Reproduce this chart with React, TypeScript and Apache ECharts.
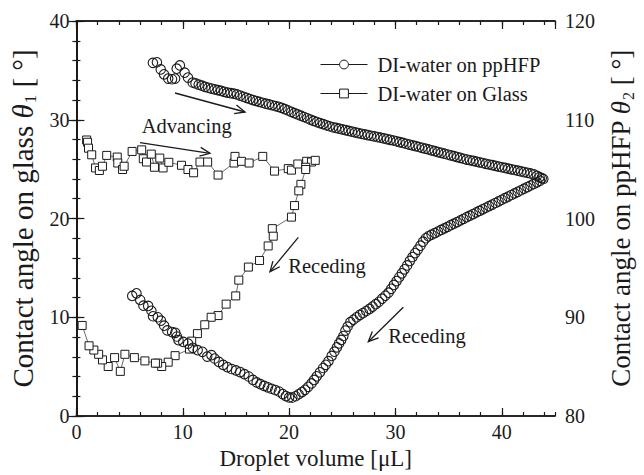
import React, { useEffect, useRef } from "react";
import * as echarts from "echarts";

const FONT = '"Liberation Serif", "Times New Roman", Times, serif';
const INK = "#1a1a1a";

// Droplet volume [µL] vs contact angle on ppHFP θ2 [°] (right axis)
const ppHfpAdvancing: number[][] = [
  [7.19, 115.76], [7.57, 115.82], [7.93, 115.1], [8.24, 114.6], [8.63, 114.17], [8.99, 114.1],
  [9.28, 114.17], [9.43, 115.17], [9.73, 115.5], [10.18, 114.77], [10.49, 114.27], [10.93, 113.77],
  [11.2, 113.68], [11.5, 113.56], [11.8, 113.45], [12.1, 113.33], [12.4, 113.24], [12.7, 113.16],
  [13.0, 113.08], [13.3, 113.0], [13.6, 112.92], [13.9, 112.83], [14.2, 112.75], [14.5, 112.69],
  [14.8, 112.64], [15.1, 112.56], [15.4, 112.45], [15.7, 112.33], [16.0, 112.22], [16.3, 112.1],
  [16.6, 111.99], [16.9, 111.9], [17.2, 111.8], [17.5, 111.72], [17.8, 111.63], [18.1, 111.55],
  [18.4, 111.47], [18.7, 111.39], [19.0, 111.31], [19.3, 111.21], [19.6, 111.07], [19.9, 110.94],
  [20.2, 110.8], [20.5, 110.67], [20.8, 110.54], [21.1, 110.41], [21.4, 110.28], [21.7, 110.15],
  [22.0, 110.02], [22.3, 109.88], [22.6, 109.77], [22.9, 109.66], [23.2, 109.55], [23.5, 109.44],
  [23.8, 109.34], [24.1, 109.24], [24.4, 109.17], [24.7, 109.1], [25.0, 109.02], [25.3, 108.95],
  [25.6, 108.87], [25.9, 108.8], [26.2, 108.72], [26.5, 108.65], [26.8, 108.58], [27.1, 108.51],
  [27.4, 108.45], [27.7, 108.38], [28.0, 108.31], [28.3, 108.25], [28.6, 108.18], [28.9, 108.11],
  [29.2, 108.04], [29.5, 107.97], [29.8, 107.9], [30.1, 107.82], [30.4, 107.73], [30.7, 107.65],
  [31.0, 107.57], [31.3, 107.49], [31.6, 107.4], [31.9, 107.32], [32.2, 107.24], [32.5, 107.16],
  [32.8, 107.07], [33.1, 106.99], [33.4, 106.9], [33.7, 106.82], [34.0, 106.73], [34.3, 106.65],
  [34.6, 106.56], [34.9, 106.48], [35.2, 106.39], [35.5, 106.31], [35.8, 106.22], [36.1, 106.14],
  [36.4, 106.05], [36.7, 105.97], [37.0, 105.9], [37.3, 105.83], [37.6, 105.76], [37.9, 105.69],
  [38.2, 105.62], [38.5, 105.54], [38.8, 105.47], [39.1, 105.4], [39.4, 105.33], [39.7, 105.26],
  [40.0, 105.19], [40.3, 105.12], [40.6, 105.05], [40.9, 104.98], [41.2, 104.91], [41.5, 104.84],
  [41.8, 104.77], [42.1, 104.7], [42.4, 104.63], [42.7, 104.56], [43.0, 104.46], [43.3, 104.32],
  [43.55, 104.18], [43.75, 104.08], [43.9, 104.0],
];

const ppHfpReceding: number[][] = [
  [43.6, 103.82], [43.3, 103.66], [43.0, 103.5], [42.7, 103.34], [42.4, 103.18], [42.1, 103.02],
  [41.8, 102.86], [41.5, 102.7], [41.2, 102.54], [40.9, 102.38], [40.6, 102.22], [40.3, 102.06],
  [40.0, 101.9], [39.7, 101.73], [39.4, 101.57], [39.1, 101.41], [38.8, 101.25], [38.5, 101.09],
  [38.2, 100.93], [37.9, 100.77], [37.6, 100.61], [37.3, 100.45], [37.0, 100.29], [36.7, 100.13],
  [36.4, 99.97], [36.1, 99.8], [35.8, 99.64], [35.5, 99.48], [35.2, 99.32], [34.9, 99.16],
  [34.6, 99.0], [34.3, 98.84], [34.0, 98.68], [33.7, 98.52], [33.4, 98.36], [33.1, 98.2],
  [32.85, 98.0], [32.6, 97.65], [32.35, 97.25], [32.1, 96.85], [31.85, 96.5], [31.6, 96.1],
  [31.35, 95.7], [31.1, 95.25], [30.85, 94.85], [30.6, 94.45], [30.35, 94.05], [30.1, 93.66],
  [29.85, 93.27], [29.6, 92.88], [29.35, 92.49], [29.05, 92.18], [28.75, 91.88], [28.45, 91.57],
  [28.15, 91.32], [27.85, 91.08], [27.56, 90.84], [27.25, 90.63], [26.95, 90.43], [26.66, 90.24],
  [26.35, 90.0], [26.05, 89.75], [25.76, 89.5], [25.5, 89.05], [25.3, 88.65], [25.1, 88.1],
  [24.9, 87.7], [24.7, 87.35], [24.5, 86.95], [24.26, 86.51], [24.0, 86.08], [23.7, 85.55],
  [23.45, 85.18], [23.2, 84.86], [22.9, 84.42], [22.6, 84.02], [22.35, 83.65], [22.1, 83.3],
  [21.8, 82.95], [21.5, 82.65], [21.2, 82.42], [20.9, 82.2], [20.6, 82.0], [20.3, 81.87],
  [20.0, 81.88], [19.7, 82.02], [19.4, 82.22], [19.05, 82.48], [18.7, 82.63], [18.35, 82.76],
  [18.0, 82.9], [17.65, 83.05], [17.3, 83.22], [16.95, 83.4], [16.6, 83.65], [16.2, 84.0],
  [15.8, 84.24], [15.4, 84.45], [15.0, 84.62], [14.6, 84.76], [14.2, 84.95], [13.8, 85.17],
  [13.4, 85.48], [13.0, 85.82], [12.7, 86.16], [12.3, 86.02], [11.85, 86.5], [11.4, 86.67],
  [10.95, 86.9], [10.5, 87.33], [10.05, 87.5], [9.6, 87.68], [9.45, 88.05], [9.3, 88.42],
  [9.0, 88.5], [8.55, 88.67], [8.25, 89.15], [7.95, 89.65], [7.65, 90.0], [7.2, 90.1],
  [7.05, 90.65], [6.75, 91.15], [6.3, 91.17], [6.0, 91.75], [5.65, 92.42], [5.25, 92.16],
];

// Droplet volume [µL] vs contact angle on glass θ1 [°] (left axis)
const glassAdvancing: number[][] = [
  [0.96, 27.95], [1.05, 27.72], [1.14, 27.12], [1.44, 26.45], [1.8, 25.12], [2.16, 24.86],
  [2.45, 25.29], [2.85, 26.39], [3.84, 26.22], [3.89, 25.62], [4.34, 24.96], [4.49, 25.29],
  [5.24, 26.79], [6.14, 26.95], [6.29, 26.05], [6.59, 25.72], [7.04, 26.52], [7.34, 25.19],
  [7.84, 26.12], [8.15, 25.12], [8.69, 25.69], [9.88, 25.39], [10.49, 24.96], [11.02, 24.63],
  [11.62, 25.72], [12.34, 25.72], [13.32, 24.4], [14.82, 25.62], [14.91, 26.29], [15.52, 25.79],
  [16.24, 25.62], [17.52, 26.29], [18.63, 24.8], [19.92, 25.05], [20.22, 24.9], [20.82, 25.52],
  [21.65, 25.79], [22.1, 25.72], [22.46, 25.89],
];

const glassReceding: number[][] = [
  [21.56, 25.19], [21.56, 24.96], [21.11, 23.46], [20.91, 22.8], [20.51, 21.31], [20.22, 20.14],
  [18.42, 18.97], [18.51, 18.21], [18.03, 17.22], [17.22, 15.75], [16.17, 15.08], [15.27, 13.76],
  [14.98, 12.16], [14.08, 11.33], [13.32, 10.17], [12.67, 10.0], [12.07, 9.24], [11.38, 8.34],
  [10.84, 7.58], [10.63, 6.78], [9.28, 6.11], [8.63, 5.45], [8.02, 5.01], [7.64, 5.35],
  [7.43, 5.35], [6.44, 5.58], [5.45, 5.91], [4.56, 6.25], [4.13, 4.52], [3.59, 5.91],
  [2.99, 5.01], [2.45, 5.68], [2.09, 6.25], [1.64, 6.68], [1.19, 7.11], [0.54, 9.17],
];

const seriesNames = ["DI-water on ppHFP", "DI-water on Glass"];
const xName = "Droplet volume [μL]";
const yLeftName = "Contact angle on glass {th|θ}{sub|1} [ °]";
const yRightName = "Contact angle on ppHFP {th|θ}{sub|2} [ °]";

function arrow(x1: number, y1: number, x2: number, y2: number) {
  const a = Math.atan2(y2 - y1, x2 - x1);
  const L = 11;
  const s = 0.42;
  const style = { stroke: INK, lineWidth: 1.3, fill: null };
  return [
    { type: "line", shape: { x1, y1, x2, y2 }, style, silent: true },
    {
      type: "polyline",
      shape: {
        points: [
          [x2 - L * Math.cos(a - s), y2 - L * Math.sin(a - s)],
          [x2, y2],
          [x2 - L * Math.cos(a + s), y2 - L * Math.sin(a + s)],
        ],
      },
      style,
      silent: true,
    },
  ];
}

function note(text: string, x: number, y: number) {
  return {
    type: "text",
    x,
    y,
    silent: true,
    style: { text, fontFamily: FONT, fontSize: 20.5, fill: INK, align: "left", verticalAlign: "middle" },
  };
}

function titleStyle(size: number, subSize: number, subDrop: number) {
  return {
    fontFamily: FONT,
    fontSize: size,
    color: INK,
    rich: {
      th: { fontFamily: FONT, fontSize: size, fontStyle: "italic", color: INK },
      sub: { fontFamily: FONT, fontSize: subSize, color: INK, padding: [subDrop, 0, 0, 1] },
    },
  };
}

export default function App() {
  const ref = useRef<HTMLDivElement>(null);
  useEffect(() => {
    if (!ref.current) return;
    const chart = echarts.init(ref.current, undefined, { renderer: "svg" });
    const axisLine = { show: true, lineStyle: { color: INK, width: 1.5 } };
    const majorTick = { show: true, inside: true, length: 8, lineStyle: { color: INK, width: 1.2 } };
    const minorTick = { show: true, inside: true, length: 4, lineStyle: { color: INK, width: 1.2 } };
    const label = { fontFamily: FONT, fontSize: 20, color: INK };
    const xBase = { type: "value", min: 0, max: 45, splitLine: { show: false }, axisLine };
    const yL = { type: "value", min: 0, max: 40, splitLine: { show: false }, axisLine };
    const yR = { type: "value", min: 80, max: 120, splitLine: { show: false }, axisLine };

    chart.setOption({
      animation: false,
      backgroundColor: "#fff",
      grid: { left: 70, right: 73, top: 21, bottom: 53 },
      xAxis: [
        {
          ...xBase,
          position: "bottom",
          interval: 10,
          axisTick: majorTick,
          axisLabel: { ...label, margin: 6, showMaxLabel: false },
          name: xName,
          nameLocation: "middle",
          nameGap: 31,
          nameTextStyle: { fontFamily: FONT, fontSize: 23, color: INK },
        },
        { ...xBase, position: "bottom", interval: 2, axisTick: minorTick, axisLabel: { show: false } },
        { ...xBase, position: "top", interval: 10, axisTick: majorTick, axisLabel: { show: false } },
        { ...xBase, position: "top", interval: 2, axisTick: minorTick, axisLabel: { show: false } },
      ],
      yAxis: [
        {
          ...yL,
          position: "left",
          interval: 10,
          axisTick: majorTick,
          axisLabel: { ...label, margin: 7 },
          name: yLeftName,
          nameLocation: "middle",
          nameRotate: 90,
          nameGap: 25,
          nameTextStyle: titleStyle(29, 17, 15),
        },
        { ...yL, position: "left", interval: 2, axisTick: minorTick, axisLabel: { show: false } },
        {
          ...yR,
          position: "right",
          interval: 10,
          axisTick: majorTick,
          axisLabel: { ...label, margin: 10 },
          name: yRightName,
          nameLocation: "middle",
          nameRotate: 90,
          nameGap: 50,
          nameTextStyle: titleStyle(27, 16, 15),
        },
        { ...yR, position: "right", interval: 2, axisTick: minorTick, axisLabel: { show: false } },
      ],
      legend: {
        orient: "vertical",
        left: 315,
        top: 49,
        itemWidth: 47,
        itemHeight: 11,
        itemGap: 8,
        selectedMode: false,
        textStyle: { fontFamily: FONT, fontSize: 20.5, color: INK, padding: [0, 0, 0, 5] },
        data: [
          {
            name: seriesNames[0],
            itemStyle: { color: "#fff", borderColor: INK, borderWidth: 1 },
            lineStyle: { color: INK, width: 1, opacity: 1 },
          },
          {
            name: seriesNames[1],
            itemStyle: { color: "#fff", borderColor: INK, borderWidth: 1 },
            lineStyle: { color: INK, width: 1, opacity: 1 },
          },
        ],
      },
      series: [
        {
          name: seriesNames[0],
          type: "line",
          xAxisIndex: 0,
          yAxisIndex: 2,
          data: [...ppHfpAdvancing, ...ppHfpReceding],
          symbol: "circle",
          symbolSize: 9.5,
          showAllSymbol: true,
          itemStyle: { color: "rgba(255,255,255,0)", borderColor: INK, borderWidth: 1.1 },
          lineStyle: { opacity: 0 },
          emphasis: { disabled: true },
          silent: true,
          z: 3,
        },
        {
          name: seriesNames[1],
          type: "line",
          xAxisIndex: 0,
          yAxisIndex: 0,
          data: [...glassAdvancing, ...glassReceding],
          symbol: "rect",
          symbolSize: 8,
          showAllSymbol: true,
          itemStyle: { color: "#fff", borderColor: INK, borderWidth: 1 },
          lineStyle: { color: "#444", width: 0.8 },
          emphasis: { disabled: true },
          silent: true,
          z: 2,
        },
      ],
      graphic: [
        ...arrow(175, 93, 245, 112),
        ...arrow(140, 142.7, 210, 153.3),
        ...arrow(298.3, 237.3, 270, 271.7),
        ...arrow(403.3, 307.3, 368.3, 341.7),
        note("Advancing", 141.7, 126),
        note("Receding", 288.3, 266),
        note("Receding", 388.3, 336),
      ],
    });
    return () => chart.dispose();
  }, []);
  return (
    <div
      ref={ref}
      style={{ position: "fixed", left: 0, top: 0, width: 644, height: 475, background: "#fff" }}
    />
  );
}
